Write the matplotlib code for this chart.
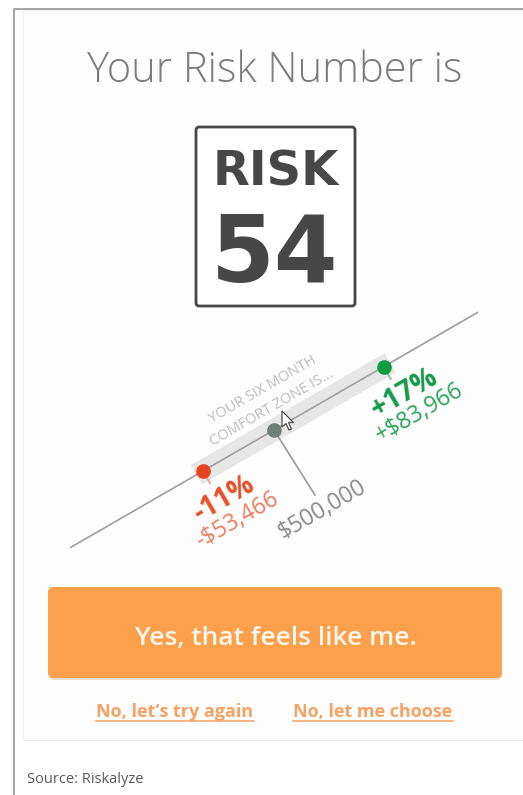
import matplotlib
matplotlib.use("Agg")
from matplotlib import pyplot as plt
from matplotlib.patches import FancyBboxPatch, Rectangle, Polygon
from matplotlib.transforms import Affine2D

# values shown on the screen
risk_number = 54
investment = 500000
low_pct, high_pct = -11, 17
low_amt, high_amt = -53466, 83966
scale_min, scale_max = -31.5, 31.5      # returns axis drawn as the diagonal
zone_text = ["YOUR SIX MONTH", "COMFORT ZONE IS..."]
button_text = "Yes, that feels like me."
link_texts = ["No, let\u2019s try again", "No, let me choose"]
source_text = "Source: Riskalyze"

W, H = 523, 795
fig = plt.figure(figsize=(W / 100, H / 100), dpi=100)
ax = fig.add_axes([0, 0, 1, 1])
ax.set_xlim(0, W)
ax.set_ylim(H, 0)
ax.axis("off")

# frame + card
ax.plot([13.5, 13.5, W], [H, 9, 9], color="#a6a6a6", lw=1.4, solid_capstyle="butt")
ax.add_patch(Rectangle((23, 10), W, 730, facecolor="#fdfdfd", edgecolor="#efefef", lw=0.8))

ax.text(275, 82, "Your Risk Number is", ha="center", va="baseline", fontsize=30,
        family="Open Sans", weight="light", color="#7b7b7b")

# risk sign
ax.add_patch(FancyBboxPatch((196, 127), 159, 179, boxstyle="round,pad=0,rounding_size=3",
                            facecolor="white", edgecolor="#474747", lw=2))
ax.text(276, 185, "RISK", ha="center", va="baseline", fontsize=34.5,
        family="DejaVu Sans", weight="bold", color="#474747")
ax.text(275, 282, str(risk_number), ha="center", va="baseline", fontsize=66,
        family="DejaVu Sans", weight="bold", color="#474747")

# diagonal returns scale: u = percent along the line, v = offset below it
k = 7.45
zone = Affine2D().scale(k).rotate_deg(-30).translate(274, 430) + ax.transData

ax.plot([low_pct - 1, high_pct + 1], [0, 0], color="#e6e6e6", lw=16,
        solid_capstyle="butt", transform=zone)
ax.plot([scale_min, scale_max], [0, 0], color="#9f9f9f", lw=1.2, transform=zone)

ax.plot([low_pct, low_pct], [0, 1.9], color="#f0a08c", lw=1.3, transform=zone)
ax.plot([high_pct, high_pct], [0, 1.9], color="#7cc596", lw=1.3, transform=zone)
ax.plot([0, 0.4], [0, 10.3], color="#9a9a9a", lw=1.2, transform=zone)

ax.plot([low_pct], [0], "o", ms=9.5, color="#e8431f", transform=zone)
ax.plot([0], [0], "o", ms=9.5, color="#6f7f78", transform=zone)
ax.plot([high_pct], [0], "o", ms=9.5, color="#0e9a3e", transform=zone)

kw = dict(ha="center", va="center", rotation=30, rotation_mode="anchor",
          family="Open Sans", transform=zone)
ax.text(low_pct + 0.5, 4.6, f"{low_pct}%", fontsize=20, weight="bold", color="#e8502a", **kw)
ax.text(low_pct + 0.7, 8.0, f"-${abs(low_amt):,}", fontsize=16.5, color="#ee7b60", **kw)
ax.text(high_pct + 0.7, 4.5, f"+{high_pct}%", fontsize=20, weight="bold", color="#18994a", **kw)
ax.text(high_pct + 1.1, 7.8, f"+${high_amt:,}", fontsize=16.5, color="#2ba55a", **kw)
ax.text(0.3, 12.6, f"${investment:,}", fontsize=16.5, color="#8a8a8a", **kw)
ax.text(1.4, -5.4, zone_text[0], fontsize=10.5, color="#bdbdbd", **kw)
ax.text(1.25, -2.7, zone_text[1], fontsize=10.5, color="#bdbdbd", **kw)

# mouse pointer
tip = (282, 411)
arrow = [(0, 0), (0, 16), (4, 12.5), (7, 19), (9.5, 18), (6.5, 11.5), (11.5, 11.5)]
ax.add_patch(Polygon([(tip[0] + a, tip[1] + b) for a, b in arrow], closed=True,
                     facecolor="white", edgecolor="#505050", lw=0.9, zorder=6))

# button
ax.add_patch(FancyBboxPatch((49, 589), 453, 91, boxstyle="round,pad=0,rounding_size=5",
                            facecolor="#e6ded6", edgecolor="none"))
ax.add_patch(FancyBboxPatch((48, 587), 454, 91, boxstyle="round,pad=0,rounding_size=5",
                            facecolor="#fca04c", edgecolor="none"))
ax.text(276, 645, button_text, ha="center", va="baseline", fontsize=19,
        family="Open Sans", weight="semibold", color="#fff8ef")

links = []
for x, t in zip([175, 373], link_texts):
    links.append(ax.text(x, 717, t, ha="center", va="baseline", fontsize=13,
                         family="Open Sans", weight="bold", color="#f5a262"))

ax.text(27, 783, source_text, ha="left", va="baseline", fontsize=10.5,
        family="Open Sans", color="#5a5a5a")

# underline the links
fig.canvas.draw()
inv = ax.transData.inverted()
for t in links:
    bb = t.get_window_extent()
    (x0, _), (x1, _) = inv.transform([(bb.x0, bb.y0), (bb.x1, bb.y0)])
    ax.plot([x0, x1], [720.5, 720.5], color="#f5a262", lw=1.1)

fig.savefig("out.png", dpi=100, facecolor="white")
